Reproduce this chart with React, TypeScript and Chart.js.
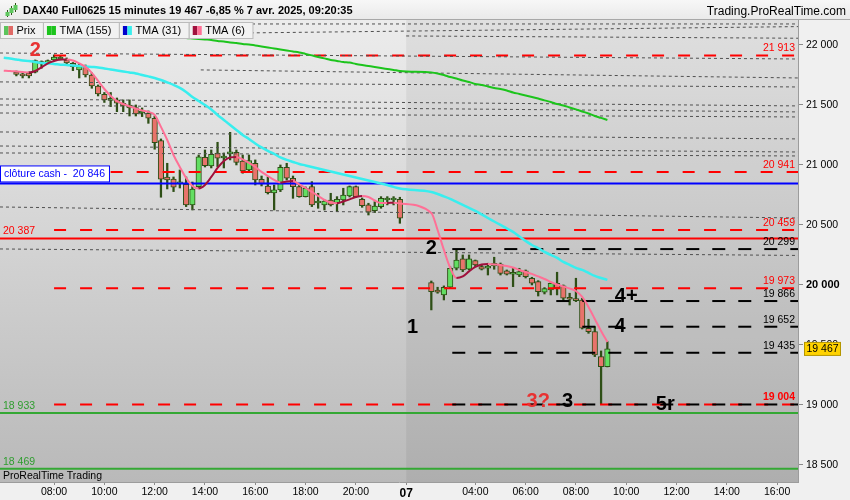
import { useEffect, useRef } from 'react'
import Chart from 'chart.js/auto'

type Candle = [string, number, number, number, number] // time, open, high, low, close

const FONT = '"Liberation Sans", Arial, sans-serif'
Chart.defaults.font.family = FONT

const title = 'DAX40 Full0625 15 minutes 19 467 -6,85 % 7 avr. 2025, 09:20:35'
const site = 'Trading.ProRealTime.com'
const footer = 'ProRealTime Trading'
const legendItems = ['Prix', 'TMA (155)', 'TMA (31)', 'TMA (6)']
const closeCashLabel = 'clôture cash -  '
const lastPrice = 19467

// session layout: Friday closes 22:00, Monday opens 01:15
const FRIDAY_CLOSE = 22
const MONDAY_OPEN = 1.25
const X_MIN = 5.85
const X_MAX = 37.58
const Y_MIN = 18358
const Y_MAX = 22208

function hours(t: string) {
  const [h, m] = t.split(':').map(Number)
  return h + m / 60
}
function fri(t: string) {
  return hours(t)
}
function mon(t: string) {
  return FRIDAY_CLOSE + hours(t) - MONDAY_OPEN
}
function fmt(v: number) {
  return Math.round(v)
    .toString()
    .replace(/\B(?=(\d{3})+(?!\d))/g, ' ')
}

// Friday 4 April
const fridayBars: Candle[] = [
  ['06:30', 21775, 21783, 21742, 21754],
  ['06:45', 21758, 21767, 21725, 21742],
  ['07:00', 21763, 21775, 21725, 21742],
  ['07:15', 21773, 21875, 21767, 21869],
  ['07:30', 21842, 21867, 21806, 21861],
  ['07:45', 21847, 21875, 21842, 21869],
  ['08:00', 21875, 21917, 21867, 21898],
  ['08:15', 21883, 21908, 21875, 21896],
  ['08:30', 21875, 21892, 21842, 21850],
  ['08:45', 21846, 21854, 21786, 21819],
  ['09:00', 21792, 21842, 21725, 21819],
  ['09:15', 21819, 21833, 21733, 21750],
  ['09:30', 21750, 21767, 21639, 21658],
  ['09:45', 21658, 21667, 21575, 21592],
  ['10:00', 21588, 21604, 21521, 21542],
  ['10:15', 21538, 21604, 21486, 21546],
  ['10:30', 21542, 21558, 21444, 21514],
  ['10:45', 21514, 21542, 21444, 21492],
  ['11:00', 21500, 21542, 21408, 21475],
  ['11:15', 21479, 21500, 21408, 21425],
  ['11:30', 21433, 21475, 21403, 21450],
  ['11:45', 21431, 21450, 21347, 21389],
  ['12:00', 21389, 21408, 21131, 21186],
  ['12:15', 21203, 21217, 20731, 20881],
  ['12:30', 20900, 21014, 20800, 20875],
  ['12:45', 20883, 20900, 20778, 20814],
  ['13:00', 20842, 20958, 20808, 20850],
  ['13:15', 20838, 20900, 20653, 20667],
  ['13:30', 20667, 20858, 20625, 20800],
  ['13:45', 20819, 21083, 20808, 21067],
  ['14:00', 21064, 21125, 20983, 20994],
  ['14:15', 20992, 21125, 20975, 21089],
  ['14:30', 21098, 21189, 20986, 21056],
  ['14:45', 21058, 21100, 20975, 21075],
  ['15:00', 21092, 21272, 21042, 21106],
  ['15:15', 21106, 21125, 21000, 21022],
  ['15:30', 21033, 21083, 20931, 20950],
  ['15:45', 20958, 21083, 20944, 21036],
  ['16:00', 21014, 21042, 20833, 20875],
  ['16:15', 20881, 20908, 20825, 20842],
  ['16:30', 20825, 20900, 20758, 20769],
  ['16:45', 20767, 20833, 20625, 20792],
  ['17:00', 20792, 21000, 20778, 20981],
  ['17:15', 20981, 21014, 20875, 20889],
  ['17:30', 20889, 20908, 20722, 20819],
  ['17:45', 20819, 20833, 20731, 20736],
  ['18:00', 20736, 20817, 20733, 20806],
  ['18:15', 20819, 20861, 20653, 20667],
  ['18:30', 20683, 20764, 20639, 20694],
  ['18:45', 20667, 20708, 20625, 20700],
  ['19:00', 20708, 20764, 20658, 20667],
  ['19:15', 20686, 20736, 20611, 20714],
  ['19:30', 20708, 20806, 20667, 20750],
  ['19:45', 20742, 20825, 20733, 20819],
  ['20:00', 20819, 20825, 20731, 20736],
  ['20:15', 20714, 20725, 20647, 20661],
  ['20:30', 20667, 20681, 20583, 20606],
  ['20:45', 20619, 20694, 20603, 20658],
  ['21:00', 20653, 20736, 20639, 20722],
  ['21:15', 20708, 20736, 20667, 20714],
  ['21:30', 20708, 20736, 20667, 20711],
  ['21:45', 20714, 20731, 20514, 20556],
]

// Monday 7 April
const mondayBars: Candle[] = [
  ['02:15', 20019, 20033, 19792, 19944],
  ['02:30', 19958, 19981, 19931, 19939],
  ['02:45', 19917, 19992, 19875, 19981],
  ['03:00', 19981, 20150, 19975, 20139],
  ['03:15', 20139, 20292, 20125, 20208],
  ['03:30', 20217, 20250, 20111, 20125],
  ['03:45', 20131, 20250, 20125, 20217],
  ['04:00', 20203, 20208, 20153, 20167],
  ['04:15', 20153, 20167, 20125, 20131],
  ['04:30', 20139, 20181, 20083, 20158],
  ['04:45', 20158, 20231, 20131, 20181],
  ['05:00', 20175, 20183, 20083, 20097],
  ['05:15', 20117, 20125, 20083, 20089],
  ['05:30', 20089, 20147, 19986, 20097],
  ['05:45', 20083, 20139, 20069, 20111],
  ['06:00', 20117, 20125, 20058, 20069],
  ['06:15', 20056, 20064, 20000, 20014],
  ['06:30', 20028, 20036, 19908, 19944],
  ['06:45', 19939, 19978, 19925, 19969],
  ['07:00', 19958, 20019, 19917, 20014],
  ['07:15', 20014, 20106, 19917, 19975],
  ['07:30', 19992, 20000, 19861, 19889],
  ['07:45', 19894, 19931, 19833, 19881],
  ['08:00', 19875, 20056, 19861, 19869],
  ['08:15', 19875, 19889, 19633, 19639],
  ['08:30', 19639, 19714, 19597, 19611],
  ['08:45', 19611, 19653, 19403, 19417],
  ['09:00', 19403, 19450, 19006, 19319],
  ['09:15', 19319, 19528, 19317, 19467],
]

// moving averages, one value per Friday time / Monday bar
const fridayMaTimes = ['06:00', '06:15', ...fridayBars.map((b) => b[0])]

const tma6Friday = [
  21786, 21783, 21779, 21775, 21771, 21783, 21813, 21846, 21867, 21878, 21879, 21871, 21846, 21817, 21767,
  21700, 21633, 21575, 21533, 21508, 21488, 21471, 21454, 21442, 21417, 21317, 21208, 21083, 20983, 20892,
  20825, 20804, 20833, 20900, 20975, 21033, 21063, 21067, 21046, 21017, 20983, 20942, 20908, 20875, 20854,
  20863, 20866, 20838, 20808, 20775, 20742, 20708, 20688, 20681, 20696, 20713, 20733, 20742, 20733, 20704,
  20683, 20683, 20686, 20679,
]
const tma6Monday = [
  20600, 20458, 20292, 20142, 20058, 20071, 20113, 20150, 20171, 20175, 20171, 20167, 20158, 20146, 20125,
  20108, 20092, 20071, 20050, 20025, 20004, 19988, 19971, 19950, 19900, 19817, 19717, 19617, 19525,
]

const tma31Friday = [
  21893, 21887, 21879, 21871, 21867, 21858, 21850, 21846, 21842, 21836, 21833, 21829, 21825, 21821, 21817,
  21813, 21804, 21796, 21788, 21779, 21771, 21763, 21750, 21738, 21725, 21708, 21688, 21667, 21642, 21608,
  21567, 21533, 21500, 21463, 21417, 21375, 21333, 21292, 21250, 21217, 21179, 21146, 21117, 21092, 21063,
  21042, 21025, 21008, 20996, 20983, 20971, 20958, 20946, 20933, 20921, 20908, 20896, 20883, 20871, 20858,
  20846, 20833, 20817, 20804,
]
const tma31Monday = [
  20775, 20758, 20738, 20717, 20692, 20667, 20642, 20617, 20588, 20558, 20529, 20500, 20471, 20442, 20404,
  20367, 20333, 20308, 20275, 20250, 20225, 20192, 20167, 20142, 20125, 20100, 20075, 20058, 20042,
]

const tma155Friday = [
  null, null, null, null, null, null, null, null, null, null, null, null, null, null, null,
  null, null, null, null, null, null, null, 22088, 22083, 22079, 22075, 22071, 22067, 22063, 22058,
  22054, 22050, 22046, 22042, 22033, 22029, 22021, 22017, 22008, 22004, 21996, 21988, 21979, 21971, 21963,
  21954, 21946, 21938, 21925, 21913, 21900, 21888, 21875, 21867, 21858, 21853, 21842, 21833, 21825, 21817,
  21808, 21800, 21792, 21783,
]
const tma155Monday = [
  21771, 21763, 21750, 21733, 21721, 21704, 21692, 21675, 21667, 21654, 21642, 21633, 21621, 21604, 21592,
  21579, 21567, 21554, 21538, 21525, 21508, 21496, 21479, 21463, 21446, 21429, 21408, 21392, 21375,
]

// x axis
const fridayTicks = ['08:00', '10:00', '12:00', '14:00', '16:00', '18:00', '20:00']
const dayBreakLabel = '07'
const mondayTicks = ['04:00', '06:00', '08:00', '10:00', '12:00', '14:00', '16:00']
const yTicks = [18500, 19000, 19500, 20000, 20500, 21000, 21500, 22000]

// drawn levels
const redLevels = [21913, 20941, 20459, 19973, 19004]
const redLevelStarts = ['08:00', '10:15', '08:00', '08:00', '08:00']
const blackLevels = [20299, 19866, 19652, 19435, 19004]
const blackLevelStart = '03:05'
const closeCash = 20846
const redSolid = 20387
const greenLevels = [18933, 18469]
// dotted lines across the whole chart: price at left edge, price at right edge
const dottedFull: [number, number][] = [
  [22175, 22175],
  [21933, 21883],
  [21692, 21650],
  [21550, 21492],
  [21500, 21442],
  [21433, 21400],
  [21275, 21217],
  [21158, 21108],
  [21100, 21075],
  [20650, 20558],
  [20300, 20246],
]
// dotted lines starting later: start position, price at start, price at right edge
const dottedPartial: [number, number, number][] = [
  [fri('13:50'), 21792, 21725],
  [fri('15:35'), 22100, 22153],
  [mon('01:15'), 22075, 22056],
]

// hand-written wave counts
const redMarks: [string, number, number][] = [
  ['2', fri('07:15'), 21958],
  ['3?', mon('06:30'), 19025],
]
const blackMarks: [string, number, number][] = [
  ['1', mon('01:30'), 19642],
  ['2', mon('02:15'), 20300],
  ['4+', mon('10:00'), 19900],
  ['4', mon('09:45'), 19658],
  ['3', mon('07:40'), 19025],
  ['5r', mon('11:33'), 19008],
]

const UP = '#62de62'
const DOWN = '#e8736b'
const WICK = '#2e4f16'
const MA155 = '#1cc41c'
const MA31 = '#38eeee'
const MA6_UP = '#a0103c'
const MA6_DOWN = '#ff7096'
const SMALL = `10.5px ${FONT}`

const candles = [
  ...fridayBars.map(([t, o, h, l, c]) => ({ x: fri(t), o, h, l, c })),
  ...mondayBars.map(([t, o, h, l, c]) => ({ x: mon(t), o, h, l, c })),
]

const maPoints = (fr: (number | null)[], mo: number[]) => [
  ...fridayMaTimes.map((t, i) => ({ x: fri(t), y: fr[i] })),
  ...mondayBars.map((b, i) => ({ x: mon(b[0]), y: mo[i] })),
]

const xTickPositions = [...fridayTicks.map(fri), FRIDAY_CLOSE, ...mondayTicks.map(mon)]
const xTickLabels = [...fridayTicks, dayBreakLabel, ...mondayTicks]

const levelLine = (x1: number, x2: number, y1: number, y2: number, color: string, width: number, dash: number[]) => ({
  type: 'line' as const,
  data: [
    { x: x1, y: y1 },
    { x: x2, y: y2 },
  ],
  borderColor: color,
  borderWidth: width,
  borderDash: dash,
  pointRadius: 0,
  tension: 0,
  order: 2,
})

const decor = {
  id: 'decor',
  beforeDraw(chart: any) {
    const { ctx, chartArea: a, scales } = chart
    ctx.save()
    ctx.fillStyle = '#f0f0f0'
    ctx.fillRect(0, 0, chart.width, chart.height)
    const g = ctx.createLinearGradient(0, a.top, 0, a.bottom)
    g.addColorStop(0, '#ececec')
    g.addColorStop(1, '#b9b9b9')
    ctx.fillStyle = g
    ctx.fillRect(a.left, a.top, a.width, a.height)
    const split = scales.x.getPixelForValue(FRIDAY_CLOSE)
    ctx.fillStyle = 'rgba(0,0,0,0.055)'
    ctx.fillRect(split, a.top, a.right - split, a.height)
    ctx.restore()
  },
  afterDatasetsDraw(chart: any) {
    const { ctx, chartArea: a, scales } = chart
    const y = scales.y
    const x = scales.x
    ctx.save()
    ctx.textBaseline = 'middle'

    // right-hand level labels
    ctx.textAlign = 'right'
    redLevels.forEach((v) => {
      ctx.font = blackLevels.includes(v) ? `bold ${SMALL}` : SMALL
      ctx.fillStyle = '#ff0000'
      ctx.fillText(fmt(v), a.right - 3, y.getPixelForValue(v) - 7)
    })
    ctx.font = SMALL
    ctx.fillStyle = '#000'
    blackLevels
      .filter((v) => !redLevels.includes(v))
      .forEach((v) => ctx.fillText(fmt(v), a.right - 3, y.getPixelForValue(v) - 7))

    // left-hand level labels
    ctx.textAlign = 'left'
    ctx.fillStyle = '#ff0000'
    ctx.fillText(fmt(redSolid), 3, y.getPixelForValue(redSolid) - 7)
    ctx.fillStyle = '#2f9e2f'
    greenLevels.forEach((v) => ctx.fillText(fmt(v), 3, y.getPixelForValue(v) - 7))

    // close cash tag
    const cy = y.getPixelForValue(closeCash)
    const text = closeCashLabel + fmt(closeCash)
    const w = ctx.measureText(text).width + 8
    ctx.fillStyle = '#ffffff'
    ctx.fillRect(0.5, cy - 17.5, w, 16)
    ctx.strokeStyle = '#0000ff'
    ctx.lineWidth = 1
    ctx.strokeRect(0.5, cy - 17.5, w, 16)
    ctx.fillStyle = '#0000ff'
    ctx.fillText(text, 4, cy - 9)

    // footer
    ctx.fillStyle = '#000'
    ctx.font = SMALL
    ctx.fillText(footer, 3, a.bottom - 6)

    // wave marks
    ctx.textAlign = 'center'
    ctx.font = `bold 20px ${FONT}`
    ctx.fillStyle = '#e83232'
    redMarks.forEach(([t, px, pv]) => ctx.fillText(t, x.getPixelForValue(px), y.getPixelForValue(pv)))
    ctx.fillStyle = '#000'
    blackMarks.forEach(([t, px, pv]) => ctx.fillText(t, x.getPixelForValue(px), y.getPixelForValue(pv)))
    ctx.restore()
  },
  afterDraw(chart: any) {
    const { ctx, chartArea: a, scales } = chart
    ctx.save()

    // header bar
    const hg = ctx.createLinearGradient(0, 0, 0, 20)
    hg.addColorStop(0, '#f7f7f7')
    hg.addColorStop(1, '#e9e9e9')
    ctx.fillStyle = hg
    ctx.fillRect(0, 0, chart.width, 20)
    ctx.fillStyle = '#a8a8a8'
    ctx.fillRect(0, 19, chart.width, 1)
    // small candle icon
    ;[
      [7, 10, 17, 12, 16],
      [11, 6, 15, 8, 13],
      [15, 3, 12, 5, 10],
    ].forEach(([cx, top, bot, bt, bb]) => {
      ctx.fillStyle = WICK
      ctx.fillRect(cx, top, 1, bot - top)
      ctx.fillStyle = '#5fc85f'
      ctx.fillRect(cx - 1.5, bt, 4, bb - bt)
    })
    ctx.textBaseline = 'middle'
    ctx.textAlign = 'left'
    ctx.fillStyle = '#000'
    ctx.font = `bold 11px ${FONT}`
    ctx.fillText(title, 23, 11)
    ctx.textAlign = 'right'
    ctx.font = `12px ${FONT}`
    ctx.fillText(site, chart.width - 4, 12)

    // legend tabs
    const swatches = [
      ['#5cc45c', '#e06a66'],
      ['#1cc41c', '#1cc41c'],
      ['#0000cc', MA31],
      [MA6_UP, MA6_DOWN],
    ]
    ctx.font = `11px ${FONT}`
    ctx.textAlign = 'left'
    let lx = 0.5
    legendItems.forEach((label, i) => {
      const w = ctx.measureText(label).width + 24
      ctx.fillStyle = '#f2f2f2'
      ctx.fillRect(lx, 22.5, w, 16)
      ctx.strokeStyle = '#bcbcbc'
      ctx.lineWidth = 1
      ctx.strokeRect(lx, 22.5, w, 16)
      ctx.fillStyle = swatches[i][0]
      ctx.fillRect(lx + 3.5, 26, 4.5, 9)
      ctx.fillStyle = swatches[i][1]
      ctx.fillRect(lx + 8, 26, 4.5, 9)
      ctx.fillStyle = '#000'
      ctx.fillText(label, lx + 16, 31)
      lx += w
    })

    // last price tag on the axis
    const py = scales.y.getPixelForValue(lastPrice)
    ctx.fillStyle = '#ffd200'
    ctx.fillRect(a.right + 6.5, py - 6.5, 36, 13)
    ctx.strokeStyle = '#b49600'
    ctx.strokeRect(a.right + 6.5, py - 6.5, 36, 13)
    ctx.fillStyle = '#000'
    ctx.font = SMALL
    ctx.textAlign = 'left'
    ctx.fillText(fmt(lastPrice), a.right + 8.5, py + 0.5)
    ctx.restore()
  },
}

export default function App() {
  const ref = useRef<HTMLCanvasElement>(null)

  useEffect(() => {
    if (!ref.current) return

    const levels = [
      ...dottedFull.map(([l, r]) => levelLine(X_MIN, X_MAX, l, r, '#505050', 1, [3, 3])),
      ...dottedPartial.map(([s, l, r]) => levelLine(s, X_MAX, l, r, '#505050', 1, [3, 3])),
      levelLine(X_MIN, X_MAX, closeCash, closeCash, '#0000ff', 2, []),
      levelLine(X_MIN, X_MAX, redSolid, redSolid, '#ff0000', 2, []),
      ...greenLevels.map((v) => levelLine(X_MIN, X_MAX, v, v, '#34a834', 2, [])),
      ...blackLevels.map((v) => levelLine(mon(blackLevelStart), X_MAX, v, v, '#000000', 2, [13, 13])),
      ...redLevels.map((v, i) => levelLine(fri(redLevelStarts[i]), X_MAX, v, v, '#ff0000', 2, [12, 14])),
    ]

    const chart = new Chart(ref.current, {
      type: 'bar',
      data: {
        datasets: [
          {
            type: 'line',
            data: maPoints(tma155Friday, tma155Monday),
            borderColor: MA155,
            borderWidth: 2,
            pointRadius: 0,
            cubicInterpolationMode: 'monotone',
            order: 1,
          },
          {
            type: 'line',
            data: maPoints(tma31Friday, tma31Monday),
            borderColor: MA31,
            borderWidth: 2.5,
            pointRadius: 0,
            cubicInterpolationMode: 'monotone',
            order: 1,
          },
          {
            type: 'line',
            data: maPoints(tma6Friday, tma6Monday),
            borderColor: MA6_DOWN,
            borderWidth: 2,
            pointRadius: 0,
            cubicInterpolationMode: 'monotone',
            segment: {
              borderColor: (c: any) => (c.p1.parsed.y > c.p0.parsed.y ? MA6_UP : MA6_DOWN),
            },
            order: 0,
          },
          ...levels,
          {
            type: 'bar',
            data: candles.map((c) => ({ x: c.x, y: [c.o, c.c] })),
            backgroundColor: candles.map((c) => (c.c >= c.o ? UP : DOWN)),
            borderColor: WICK,
            borderWidth: 1,
            borderSkipped: false,
            barThickness: 5.5,
            minBarLength: 2,
            grouped: false,
            order: 3,
          },
          {
            type: 'bar',
            data: candles.map((c) => ({ x: c.x, y: [c.l, c.h] })),
            backgroundColor: WICK,
            barThickness: 1.6,
            grouped: false,
            order: 4,
          },
        ] as any,
      },
      options: {
        animation: false,
        responsive: true,
        maintainAspectRatio: false,
        events: [],
        layout: { padding: { top: 20, left: 0, right: 0, bottom: 0 } },
        plugins: {
          legend: { display: false },
          tooltip: { enabled: false },
        },
        scales: {
          x: {
            type: 'linear',
            position: 'bottom',
            min: X_MIN,
            max: X_MAX,
            offset: false,
            afterBuildTicks: (s: any) => {
              s.ticks = xTickPositions.map((value) => ({ value }))
            },
            afterFit: (s: any) => {
              s.height = 18
            },
            grid: { drawOnChartArea: false, offset: false, tickLength: 3, color: '#8a8a8a' },
            border: { color: '#9c9c9c' },
            ticks: {
              autoSkip: false,
              maxRotation: 0,
              padding: 1,
              color: '#000',
              font: (c: any) =>
                c.tick && c.tick.value === FRIDAY_CLOSE
                  ? { size: 12, weight: 'bold', family: FONT }
                  : { size: 10.5, family: FONT },
              callback: (_v: any, i: number) => xTickLabels[i],
            },
          },
          y: {
            type: 'linear',
            position: 'right',
            min: Y_MIN,
            max: Y_MAX,
            afterBuildTicks: (s: any) => {
              s.ticks = yTicks.map((value) => ({ value }))
            },
            afterFit: (s: any) => {
              s.width = 52
            },
            grid: { drawOnChartArea: false, tickLength: 5, color: '#8a8a8a' },
            border: { color: '#9c9c9c' },
            ticks: {
              padding: 3,
              color: '#000',
              font: (c: any) =>
                c.tick && c.tick.value === 20000
                  ? { size: 11, weight: 'bold', family: FONT }
                  : { size: 10.5, family: FONT },
              callback: (v: any) => fmt(Number(v)),
            },
          },
        },
      } as any,
      plugins: [decor],
    })

    return () => chart.destroy()
  }, [])

  return (
    <div style={{ position: 'fixed', left: 0, top: 0, width: 850, height: 500 }}>
      <canvas ref={ref} />
    </div>
  )
}
